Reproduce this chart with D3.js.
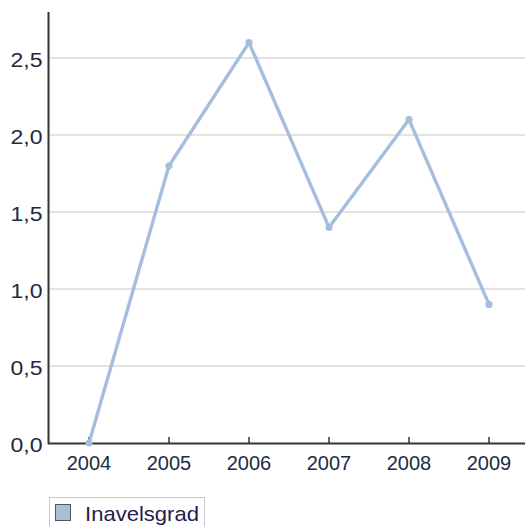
<!DOCTYPE html>
<html><head><meta charset="utf-8">
<script src="https://cdn.jsdelivr.net/npm/d3@7"></script>
<style>html,body{margin:0;padding:0;background:#fff;}svg{display:block;}</style>
</head><body>
<svg id="c" width="525" height="527"></svg>
<script>
const years = ["2004","2005","2006","2007","2008","2009"];
const values = [0, 1.8, 2.6, 1.4, 2.1, 0.9];
const yTicks = [0, 0.5, 1.0, 1.5, 2.0, 2.5];
const seriesName = "Inavelsgrad";

const svg = d3.select("#c");
const font = "'Liberation Sans', Arial, sans-serif";
const x = d3.scaleBand().domain(years).range([49, 529]);
const y = d3.scaleLinear().domain([0, 2.5]).range([443, 58]);
const fmt = v => d3.format(".1f")(v).replace(".", ",");
const lineColor = "#a6bedd";

// gridlines
svg.append("g").selectAll("line").data(yTicks.filter(d => d > 0)).join("line")
  .attr("x1", 49).attr("x2", 525)
  .attr("y1", d => y(d)).attr("y2", d => y(d))
  .attr("stroke", "#e3e3e3").attr("stroke-width", 2);

// y axis
const ya = svg.append("g").attr("transform", "translate(48.5,2)")
  .call(d3.axisLeft(y).tickValues(yTicks).tickFormat(fmt).tickSize(0).tickPadding(6));
ya.select(".domain").remove();
ya.selectAll("text").attr("font-family", font).attr("font-size", 20).attr("fill", "#1e2a44")
  .attr("textLength", 32).attr("lengthAdjust", "spacingAndGlyphs");
svg.append("line").attr("x1", 48.5).attr("x2", 48.5).attr("y1", 12).attr("y2", 444)
  .attr("stroke", "#333").attr("stroke-width", 2);

// x axis
const xa = svg.append("g").attr("transform", "translate(0,443.5)")
  .call(d3.axisBottom(x).tickSize(0).tickPadding(12));
xa.select(".domain").remove();
xa.selectAll("text").attr("font-family", font).attr("font-size", 20).attr("fill", "#1e2a44");
svg.append("line").attr("x1", 48).attr("x2", 525).attr("y1", 443.5).attr("y2", 443.5)
  .attr("stroke", "#333").attr("stroke-width", 2);
svg.append("g").selectAll("line").data(years).join("line")
  .attr("x1", d => x(d) + x.bandwidth()/2).attr("x2", d => x(d) + x.bandwidth()/2)
  .attr("y1", 437).attr("y2", 443)
  .attr("stroke", "#333").attr("stroke-width", 1.5);

// line
const pts = years.map((yr, i) => [x(yr) + x.bandwidth()/2, y(values[i])]);
svg.append("path").datum(pts)
  .attr("d", d3.line())
  .attr("fill", "none").attr("stroke", lineColor).attr("stroke-width", 3.4)
  .attr("stroke-linejoin", "round");
svg.append("g").selectAll("circle").data(pts).join("circle")
  .attr("cx", d => d[0]).attr("cy", d => d[1]).attr("r", 3.6).attr("fill", lineColor);

// legend
svg.append("rect").attr("x", 49.5).attr("y", 497.5).attr("width", 155).attr("height", 40)
  .attr("fill", "#fff").attr("stroke", "#c8c8c8").attr("stroke-width", 1);
svg.append("rect").attr("x", 55.5).attr("y", 504.5).attr("width", 15).attr("height", 16)
  .attr("fill", "#a8bfdc").attr("stroke", "#555").attr("stroke-width", 1);
svg.append("text").attr("x", 85).attr("y", 521).text(seriesName)
  .attr("font-family", font).attr("font-size", 21).attr("fill", "#2a1a4a")
  .attr("textLength", 114).attr("lengthAdjust", "spacingAndGlyphs");
</script>
</body></html>
